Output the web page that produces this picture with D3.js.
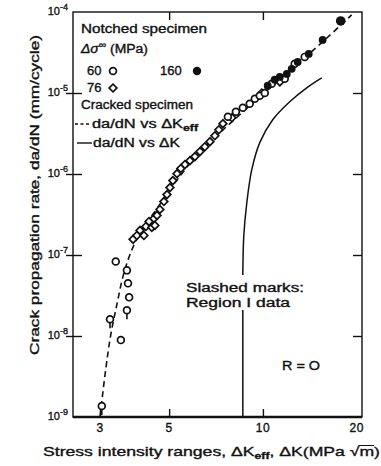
<!DOCTYPE html>
<html><head><meta charset="utf-8">
<script src="https://cdn.jsdelivr.net/npm/d3@7"></script>
<style>
html,body{margin:0;padding:0;background:#fff;}
svg{display:block;}
text{font-family:"Liberation Sans",Arial,sans-serif;fill:#111;stroke:#111;stroke-width:0.35px;}
</style></head><body>
<svg id="c" width="381" height="466"></svg>
<script>
// ---------- data ----------
const yTicks = [1e-4, 1e-5, 1e-6, 1e-7, 1e-8, 1e-9];
const yTickExp = ["-4", "-5", "-6", "-7", "-8", "-9"];
const xTicks = [3, 5, 10, 20];
const xTickLabels = ["3", "5", "10", "20"];

// Notched specimen, Δσ∞ = 60 MPa (open circles); slash = Region I data
const open60K    = [3.04, 3.23, 3.50, 3.66, 3.72, 3.69, 3.66, 3.37, 7.72, 8.19, 8.62, 9.07, 9.42, 9.77, 10.14, 10.67, 11.75, 12.65, 13.62];
const open60Rate = [1.37e-9, 1.61e-8, 8.9e-9, 2.08e-8, 3.0e-8, 4.47e-8, 6.46e-8, 8.3e-8, 5.09e-6, 5.87e-6, 6.58e-6, 7.36e-6, 8.49e-6, 9.24e-6, 1.0e-5, 1.30e-5, 1.50e-5, 2.29e-5, 2.79e-5];
const open60Slash = [1, 1, 0, 1, 0, 0, 0, 0, 0, 0, 0, 0, 0, 0, 0, 0, 0, 0, 0];

// Δσ∞ = 76 MPa (diamonds)
const dia76K    = [3.83, 3.94, 4.03, 4.15, 4.21, 4.31, 4.40, 4.47, 4.57, 4.50, 4.67, 4.81, 4.92, 5.03, 5.14, 5.30, 5.45, 5.62, 5.83, 6.05, 6.28, 6.51, 6.76, 7.01, 7.22, 7.44, 7.95, 9.92, 11.33];
const dia76Rate = [1.56e-7, 1.74e-7, 2.01e-7, 1.74e-7, 2.25e-7, 2.59e-7, 2.19e-7, 2.82e-7, 3.08e-7, 2.32e-7, 3.65e-7, 4.57e-7, 5.57e-7, 6.8e-7, 8.3e-7, 1.01e-6, 1.17e-6, 1.31e-6, 1.46e-6, 1.64e-6, 1.89e-6, 2.17e-6, 2.51e-6, 2.97e-6, 3.52e-6, 4.18e-6, 4.95e-6, 1.0e-5, 1.37e-5];

// Δσ∞ = 160 MPa (filled circles)
const fill160K    = [10.36, 10.91, 11.33, 11.93, 12.37, 12.93, 14.03, 15.55, 17.77];
const fill160Rate = [1.23e-5, 1.46e-5, 1.58e-5, 1.72e-5, 1.99e-5, 2.42e-5, 3.04e-5, 4.52e-5, 7.75e-5];

// Cracked specimen: da/dN vs ΔKeff (dashed)
const effK    = [3.00, 3.13, 3.25, 3.40, 3.57, 3.80, 4.09, 4.50, 5.03, 5.62, 6.28, 7.27, 8.43, 9.77, 11.33, 13.13, 15.79, 19.27];
const effRate = [1e-9, 3.9e-9, 1.05e-8, 2.47e-8, 5.77e-8, 1.17e-7, 2.07e-7, 3.44e-7, 6.43e-7, 1.13e-6, 1.89e-6, 3.23e-6, 5.39e-6, 8.98e-6, 1.46e-5, 2.42e-5, 4.52e-5, 9.2e-5];

// Cracked specimen: da/dN vs ΔK (solid)
const dkK    = [8.62, 8.62, 8.62, 8.68, 8.88, 9.21, 9.77, 10.75, 12.19, 13.82, 15.44];
const dkRate = [1e-9, 2.14e-8, 5.77e-8, 1.69e-7, 4.45e-7, 1.13e-6, 2.44e-6, 4.68e-6, 7.8e-6, 1.16e-5, 1.54e-5];

// ---------- chart ----------
const svg = d3.select("#c");
const x = d3.scaleLog().domain([2.457, 20.8]).range([73, 362]);
const y = d3.scaleLog().domain([1e-9, 1e-4]).range([417, 12]);
const X0 = 73, X1 = 362, Y0 = 417, Y1 = 12;

// frame
svg.append("rect").attr("x", X0).attr("y", Y1).attr("width", X1 - X0).attr("height", Y0 - Y1)
  .attr("fill", "none").attr("stroke", "#111").attr("stroke-width", 1.4);
svg.append("line").attr("x1", X0).attr("x2", X1).attr("y1", Y0).attr("y2", Y0)
  .attr("stroke", "#111").attr("stroke-width", 2.4);

function styleAxis(g) {
  g.select(".domain").remove();
  g.selectAll(".tick line").attr("stroke", "#111").attr("stroke-width", 1.4);
  g.selectAll(".tick text").remove();
}
// left ticks (crossing the axis)
svg.append("g").attr("transform", `translate(${X0},0)`)
  .call(d3.axisLeft(y).tickValues(yTicks.slice(1, 5)).tickSize(7)).call(styleAxis);
svg.append("g").attr("transform", `translate(${X0},0)`)
  .call(d3.axisLeft(y).tickValues(yTicks.slice(1, 5)).tickSize(-9)).call(styleAxis);
// right ticks (inward)
svg.append("g").attr("transform", `translate(${X1},0)`)
  .call(d3.axisRight(y).tickValues(yTicks.slice(1, 5)).tickSize(-9)).call(styleAxis);
// bottom ticks (inward)
svg.append("g").attr("transform", `translate(0,${Y0})`)
  .call(d3.axisBottom(x).tickValues([3, 5, 10]).tickSize(-8)).call(styleAxis);
// top ticks (inward)
svg.append("g").attr("transform", `translate(0,${Y1})`)
  .call(d3.axisTop(x).tickValues([5, 10]).tickSize(-8)).call(styleAxis);

// y tick labels
yTicks.forEach((t, i) => {
  const tx = svg.append("text").attr("x", 68).attr("y", y(t) + 3)
    .attr("text-anchor", "end").attr("font-size", 11);
  tx.append("tspan").text("10");
  tx.append("tspan").attr("dy", -5).attr("font-size", 9).text(yTickExp[i]);
});
// x tick labels
xTicks.forEach((t, i) => {
  svg.append("text").attr("x", x(t)).attr("y", 432).attr("text-anchor", "middle")
    .attr("font-size", 12).attr("letter-spacing", 0.5).text(xTickLabels[i]);
});

// axis titles
svg.append("text").attr("transform", "translate(39,195) rotate(-90)")
  .attr("text-anchor", "middle").attr("font-size", 13)
  .attr("textLength", 320).attr("lengthAdjust", "spacingAndGlyphs")
  .text("Crack propagation rate, da/dN (mm/cycle)");

const xt = svg.append("text").attr("x", 43).attr("y", 456).attr("font-size", 13);
xt.append("tspan").text("Stress intensity ranges, \u0394K");
xt.append("tspan").attr("dy", 3).attr("font-size", 9).attr("font-weight", "bold").text("eff");
xt.append("tspan").attr("dy", -3).text(", \u0394K(MPa ");
xt.append("tspan").text("\u221Am");
xt.append("tspan").text(")");
xt.attr("textLength", 337).attr("lengthAdjust", "spacingAndGlyphs");

// lines
const line = d3.line().x(d => x(d[0])).y(d => y(d[1])).curve(d3.curveCatmullRom.alpha(0.5));
svg.append("path").datum(effK.map((k, i) => [k, effRate[i]]))
  .attr("d", line).attr("fill", "none").attr("stroke", "#111")
  .attr("stroke-width", 1.6).attr("stroke-dasharray", "6,4");
svg.append("path").datum(dkK.map((k, i) => [k, dkRate[i]]))
  .attr("d", line).attr("fill", "none").attr("stroke", "#111").attr("stroke-width", 1.5);

// annotation (with white knock-out behind it)
const ann = svg.append("g");
const annBg = ann.append("rect").attr("fill", "#fff");
const a1 = ann.append("text").attr("x", 186).attr("y", 292).attr("font-size", 12)
  .attr("textLength", 118).attr("lengthAdjust", "spacingAndGlyphs").text("Slashed marks:");
const a2 = ann.append("text").attr("x", 186).attr("y", 307).attr("font-size", 12)
  .attr("textLength", 104).attr("lengthAdjust", "spacingAndGlyphs").text("Region I data");
const b1 = a1.node().getBBox(), b2 = a2.node().getBBox();
annBg.attr("x", b1.x - 2).attr("y", b1.y - 6).attr("width", Math.max(b1.width, b2.width) + 4)
  .attr("height", b2.y + b2.height - b1.y + 6);
svg.append("text").attr("x", 282).attr("y", 370).attr("font-size", 12)
  .attr("textLength", 38).attr("lengthAdjust", "spacingAndGlyphs").text("R = O");

// markers
const diamondPath = d3.symbol().type(d3.symbolSquare).size(30)();
svg.append("g").selectAll("path").data(dia76K.map((k, i) => [k, dia76Rate[i]])).join("path")
  .attr("d", diamondPath)
  .attr("transform", d => `translate(${x(d[0])},${y(d[1])}) rotate(45)`)
  .attr("fill", "#fff").attr("stroke", "#111").attr("stroke-width", 1.7);

const o60 = open60K.map((k, i) => [k, open60Rate[i], open60Slash[i]]);
svg.append("g").selectAll("line").data(o60.filter(d => d[2])).join("line")
  .attr("x1", d => x(d[0])).attr("x2", d => x(d[0]))
  .attr("y1", d => y(d[1]) + 3).attr("y2", d => y(d[1]) + 9)
  .attr("stroke", "#111").attr("stroke-width", 1.6);
svg.append("g").selectAll("circle").data(o60).join("circle")
  .attr("cx", d => x(d[0])).attr("cy", d => y(d[1])).attr("r", 3.4)
  .attr("fill", "#fff").attr("stroke", "#111").attr("stroke-width", 1.7);

svg.append("g").selectAll("circle").data(fill160K.map((k, i) => [k, fill160Rate[i]])).join("circle")
  .attr("cx", d => x(d[0])).attr("cy", d => y(d[1]))
  .attr("r", (d, i) => i === fill160K.length - 1 ? 4.8 : 3.9)
  .attr("fill", "#111");

// legend
const lg = svg.append("g").attr("font-size", 12);
lg.append("text").attr("x", 81).attr("y", 33).attr("textLength", 126)
  .attr("lengthAdjust", "spacingAndGlyphs").text("Notched specimen");
const ds = lg.append("text").attr("x", 81).attr("y", 53).attr("textLength", 67)
  .attr("lengthAdjust", "spacingAndGlyphs");
ds.append("tspan").attr("font-style", "italic").text("\u0394\u03C3");
ds.append("tspan").attr("dy", -5).attr("font-size", 9).text("\u221E");
ds.append("tspan").attr("dy", 5).text(" (MPa)");
lg.append("text").attr("x", 87).attr("y", 75).attr("font-size", 13).text("60");
lg.append("circle").attr("cx", 113).attr("cy", 71).attr("r", 3.4)
  .attr("fill", "#fff").attr("stroke", "#111").attr("stroke-width", 1.7);
lg.append("text").attr("x", 160).attr("y", 75).attr("font-size", 13).text("160");
lg.append("circle").attr("cx", 197).attr("cy", 71).attr("r", 4.2).attr("fill", "#111");
lg.append("text").attr("x", 87).attr("y", 92).attr("font-size", 13).text("76");
lg.append("path").attr("d", diamondPath).attr("transform", "translate(113,88) rotate(45)")
  .attr("fill", "#fff").attr("stroke", "#111").attr("stroke-width", 1.7);
lg.append("text").attr("x", 81).attr("y", 109).attr("textLength", 112)
  .attr("lengthAdjust", "spacingAndGlyphs").text("Cracked specimen");
lg.append("line").attr("x1", 75).attr("x2", 90).attr("y1", 124).attr("y2", 124)
  .attr("stroke", "#111").attr("stroke-width", 1.4).attr("stroke-dasharray", "3,2.5");
const le = lg.append("text").attr("x", 92).attr("y", 128).attr("textLength", 106)
  .attr("lengthAdjust", "spacingAndGlyphs");
le.append("tspan").text("da/dN vs \u0394K");
le.append("tspan").attr("dy", 3).attr("font-size", 9).attr("font-weight", "bold").text("eff");
lg.append("line").attr("x1", 77).attr("x2", 92).attr("y1", 143).attr("y2", 143)
  .attr("stroke", "#111").attr("stroke-width", 1.4);
lg.append("text").attr("x", 93).attr("y", 147).attr("textLength", 87)
  .attr("lengthAdjust", "spacingAndGlyphs").text("da/dN vs \u0394K");

// overline for √m in the x title
const xn = xt.node();
const full = xn.textContent;
const iS = full.indexOf("\u221A"), iM = iS + 1;
const eS = xn.getExtentOfChar(iS), eM = xn.getExtentOfChar(iM);
svg.append("line").attr("x1", eS.x + eS.width - 1).attr("x2", eM.x + eM.width)
  .attr("y1", eS.y + 1.5).attr("y2", eS.y + 1.5).attr("stroke", "#111").attr("stroke-width", 1);
</script>
</body></html>
